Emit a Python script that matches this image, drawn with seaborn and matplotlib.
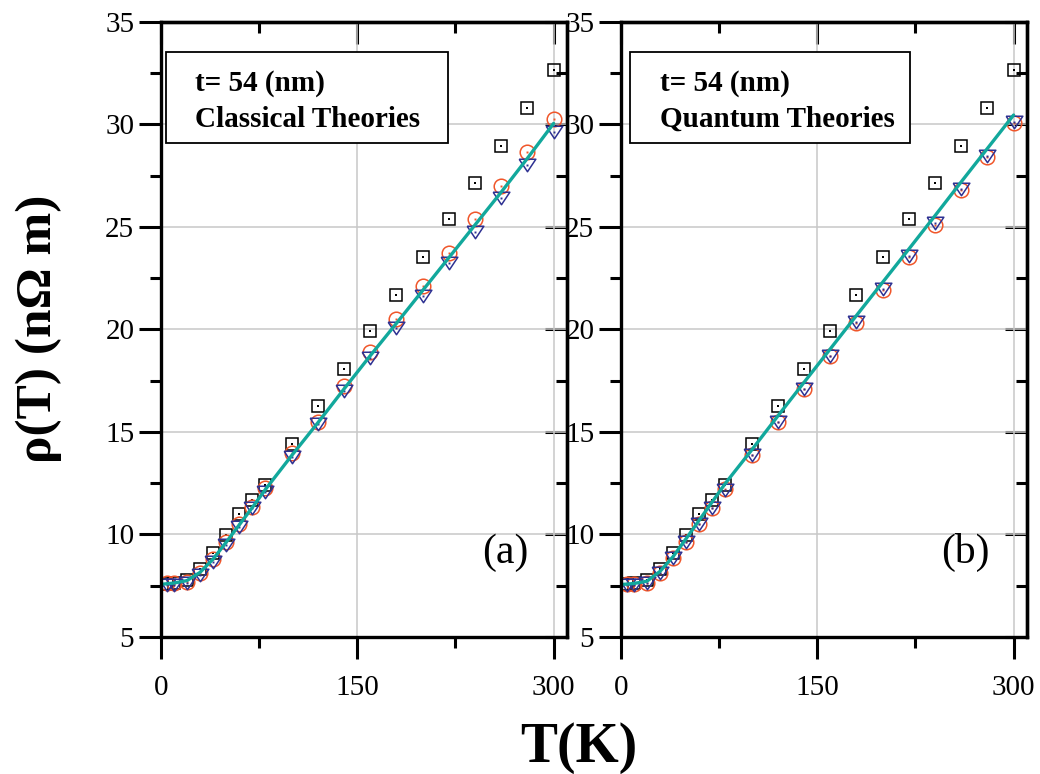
import numpy as np
import pandas as pd
import matplotlib
matplotlib.use("Agg")
import matplotlib.pyplot as plt
from matplotlib.ticker import MultipleLocator
from matplotlib.patches import Rectangle
import seaborn as sns

sns.set_theme(style="white")
plt.rcParams['font.family'] = ['Liberation Serif', 'DejaVu Serif']
for k in ['text.color', 'axes.labelcolor', 'xtick.color', 'ytick.color', 'axes.edgecolor']:
    plt.rcParams[k] = 'black'

# ---------------- data ----------------
T = [5, 10, 20, 30, 40, 50, 60, 70, 80, 100, 120, 140, 160, 180, 200, 220, 240, 260, 280, 300]
T_fit = [2, 5, 10, 20, 30, 40, 50, 60, 70, 80, 100, 120, 140, 160, 180, 200, 220, 240, 260, 280, 300]

rho_exp = [7.60, 7.62, 7.80, 8.33, 9.12, 9.98, 10.98, 11.70, 12.43, 14.41, 16.27, 18.07,
           19.93, 21.68, 23.54, 25.40, 27.15, 28.95, 30.80, 32.66]

# panel (a) classical theories
rho_a_circ = [7.62, 7.62, 7.70, 8.14, 8.79, 9.65, 10.51, 11.36, 12.26, 13.96, 15.50, 17.24,
              18.90, 20.50, 22.12, 23.75, 25.38, 27.00, 28.64, 30.27]
rho_a_tri = [7.54, 7.54, 7.62, 8.02, 8.67, 9.49, 10.38, 11.28, 12.09, 13.78, 15.38, 17.02,
             18.62, 20.06, 21.63, 23.26, 24.77, 26.40, 28.02, 29.62]
rho_a_fit = [7.58, 7.60, 7.63, 7.75, 8.15, 8.80, 9.62, 10.47, 11.32, 12.20, 13.85, 15.45,
             17.10, 18.72, 20.30, 21.90, 23.50, 25.10, 26.70, 28.35, 30.05]

# panel (b) quantum theories
rho_b_circ = [7.58, 7.58, 7.65, 8.10, 8.83, 9.65, 10.50, 11.30, 12.20, 13.88, 15.49, 17.10,
              18.70, 20.33, 21.93, 23.55, 25.12, 26.78, 28.40, 30.05]
rho_b_tri = [7.54, 7.54, 7.62, 8.10, 8.83, 9.65, 10.51, 11.28, 12.17, 13.88, 15.50, 17.12,
             18.72, 20.36, 21.96, 23.60, 25.20, 26.85, 28.48, 30.14]
rho_b_fit = [7.57, 7.58, 7.61, 7.72, 8.20, 8.92, 9.80, 10.70, 11.60, 12.50, 14.12, 15.78,
             17.42, 19.05, 20.68, 22.30, 23.92, 25.55, 27.20, 28.83, 30.46]

panel_titles = ["Classical Theories", "Quantum Theories"]
panel_tags = ["(a)", "(b)"]
thickness_label = "t= 54 (nm)"

# ---------------- styling ----------------
C_SQ = "black"
C_CIRC = "#f0562a"
C_TRI = "#2e3192"
C_FIT = "#12a89c"
tri_marker = [(-1, 0.75), (1, 0.75), (0, -0.75), (-1, 0.75)]

fig = plt.figure(figsize=(10.4, 7.74), dpi=100)
ax_a = fig.add_axes([0.1545, 0.177, 0.3904, 0.7946])
ax_b = fig.add_axes([0.5968, 0.177, 0.3904, 0.7946])

panels = [
    (ax_a, rho_a_circ, rho_a_tri, rho_a_fit, panel_titles[0], panel_tags[0], 0.013, 0.708, 0.0845),
    (ax_b, rho_b_circ, rho_b_tri, rho_b_fit, panel_titles[1], panel_tags[1], 0.023, 0.7125, 0.097),
]

for ax, circ, tri, fit, title, tag, bx0, bx1, tx in panels:
    df = pd.DataFrame({"T": T, "exp": rho_exp, "circ": circ, "tri": tri})
    dff = pd.DataFrame({"T": T_fit, "fit": fit})

    ax.set_xlim(0, 310)
    ax.set_ylim(5, 35)
    ax.xaxis.set_major_locator(MultipleLocator(150))
    ax.xaxis.set_minor_locator(MultipleLocator(75))
    ax.yaxis.set_major_locator(MultipleLocator(5))
    ax.yaxis.set_minor_locator(MultipleLocator(2.5))
    ax.grid(True, which="major", color="#c8c8c8", lw=1.1, zorder=0)
    ax.set_axisbelow(True)

    common = dict(ax=ax, estimator=None, sort=False, linestyle="none", legend=False)
    sns.lineplot(data=df, x="T", y="exp", marker="s", markersize=8.3,
                 markerfacecolor="none", markeredgecolor=C_SQ, markeredgewidth=1.1,
                 color=C_SQ, zorder=3, **common)
    sns.lineplot(data=df, x="T", y="exp", marker="s", markersize=1.6,
                 markerfacecolor=C_SQ, markeredgecolor=C_SQ, markeredgewidth=0,
                 color=C_SQ, zorder=3, **common)
    sns.lineplot(data=df, x="T", y="circ", marker="o", markersize=10.5,
                 markerfacecolor="none", markeredgecolor=C_CIRC, markeredgewidth=1.1,
                 color=C_CIRC, zorder=4, **common)
    sns.lineplot(data=df, x="T", y="circ", marker="s", markersize=1.4,
                 markerfacecolor=C_CIRC, markeredgecolor=C_CIRC, markeredgewidth=0,
                 color=C_CIRC, zorder=4, **common)
    sns.lineplot(data=df, x="T", y="tri", marker=tri_marker, markersize=12,
                 markerfacecolor="none", markeredgecolor=C_TRI, markeredgewidth=1.1,
                 color=C_TRI, zorder=5, **common)
    sns.lineplot(data=df, x="T", y="tri", marker="s", markersize=1.4,
                 markerfacecolor=C_TRI, markeredgecolor=C_TRI, markeredgewidth=0,
                 color=C_TRI, zorder=5, **common)
    sns.lineplot(data=dff, x="T", y="fit", ax=ax, estimator=None, sort=False,
                 color=C_FIT, lw=2.4, zorder=6, legend=False)

    ax.set_xlabel("")
    ax.set_ylabel("")
    for s in ax.spines.values():
        s.set_linewidth(2.4)
        s.set_color("black")
        s.set_zorder(10)

    ax.tick_params(axis="both", which="both", bottom=True, left=True, top=False, right=False)
    ax.tick_params(axis="both", which="major", direction="out", length=16, width=2.2,
                   labelsize=21, colors="black")
    ax.tick_params(axis="both", which="minor", direction="out", length=8, width=2.2,
                   colors="black")
    ax.tick_params(axis="x", which="major", pad=11)
    ax.tick_params(axis="y", which="major", pad=3)

    # mirrored inward ticks on top and right
    sx = ax.secondary_xaxis("top")
    sx.xaxis.set_major_locator(MultipleLocator(150))
    sx.xaxis.set_minor_locator(MultipleLocator(75))
    sx.tick_params(which="both", top=True, colors="black")
    sx.tick_params(which="major", direction="in", length=16, width=2.2, labeltop=False)
    sx.tick_params(which="minor", direction="in", length=8, width=2.2)
    sx.spines["top"].set_linewidth(2.4)
    sy = ax.secondary_yaxis("right")
    sy.yaxis.set_major_locator(MultipleLocator(5))
    sy.yaxis.set_minor_locator(MultipleLocator(2.5))
    sy.tick_params(which="both", right=True, colors="black")
    sy.tick_params(which="major", direction="in", length=16, width=2.2, labelright=False)
    sy.tick_params(which="minor", direction="in", length=8, width=2.2)
    sy.spines["right"].set_linewidth(2.4)

    # text box
    ax.add_patch(Rectangle((bx0, 0.804), bx1 - bx0, 0.951 - 0.804, transform=ax.transAxes,
                           facecolor="white", edgecolor="black", lw=1.3, zorder=8))
    ax.text(tx, 0.889, thickness_label, transform=ax.transAxes, fontsize=21,
            fontweight="bold", va="baseline", ha="left", zorder=9)
    ax.text(tx, 0.829, title, transform=ax.transAxes, fontsize=21,
            fontweight="bold", va="baseline", ha="left", zorder=9)
    ax.text(0.85, 0.137, tag, transform=ax.transAxes, fontsize=30,
            va="center", ha="center", zorder=9)

fig.text(0.557, 0.034, "T(K)", fontsize=40, fontweight="bold", ha="center", va="center")
fig.text(0.037, 0.575, "ρ(T) (nΩ m)", fontsize=37, fontweight="bold", ha="center",
         va="center", rotation=90)

fig.savefig("out.png", dpi=100)
